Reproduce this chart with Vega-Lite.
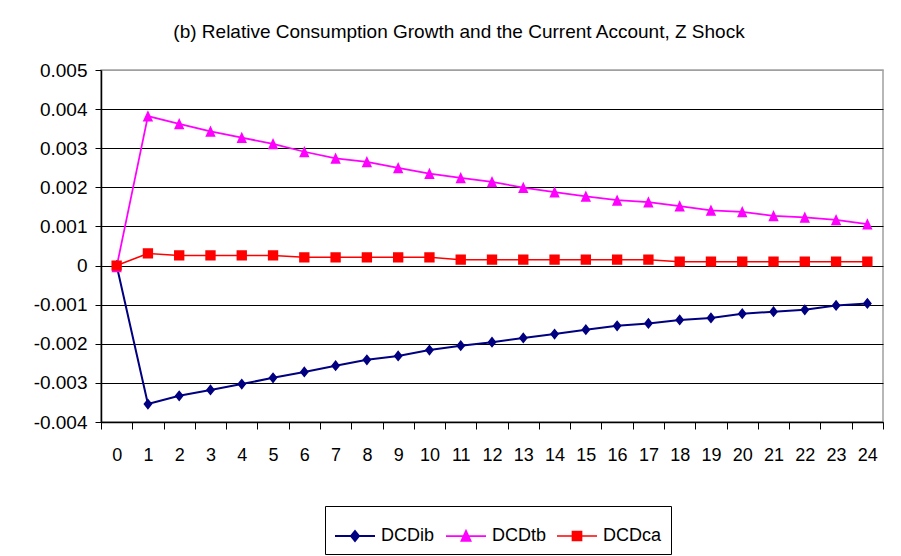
{
  "$schema": "https://vega.github.io/schema/vega-lite/v6.json",
  "autosize": "none",
  "width": 782,
  "height": 352,
  "padding": {"left": 101, "top": 70, "right": 18, "bottom": 134},
  "background": "white",
  "title": {
    "text": "(b) Relative Consumption Growth and the Current Account, Z Shock",
    "font": "Liberation Sans, Arial, sans-serif",
    "fontSize": 19,
    "fontWeight": "normal",
    "color": "black",
    "anchor": "middle",
    "baseline": "alphabetic",
    "dx": -33,
    "offset": 4
  },
  "config": {
    "view": {"stroke": "#a0a0a0", "strokeWidth": 1.5},
    "font": "Liberation Sans, Arial, sans-serif"
  },
  "data": {
    "values": [
      {"t": 0, "series": "DCDib", "value": 0},
      {"t": 1, "series": "DCDib", "value": -0.00354},
      {"t": 2, "series": "DCDib", "value": -0.00333},
      {"t": 3, "series": "DCDib", "value": -0.00318},
      {"t": 4, "series": "DCDib", "value": -0.00303},
      {"t": 5, "series": "DCDib", "value": -0.00287},
      {"t": 6, "series": "DCDib", "value": -0.00272},
      {"t": 7, "series": "DCDib", "value": -0.00256},
      {"t": 8, "series": "DCDib", "value": -0.00241},
      {"t": 9, "series": "DCDib", "value": -0.00231},
      {"t": 10, "series": "DCDib", "value": -0.00216},
      {"t": 11, "series": "DCDib", "value": -0.00205},
      {"t": 12, "series": "DCDib", "value": -0.00196},
      {"t": 13, "series": "DCDib", "value": -0.00185},
      {"t": 14, "series": "DCDib", "value": -0.00175},
      {"t": 15, "series": "DCDib", "value": -0.00164},
      {"t": 16, "series": "DCDib", "value": -0.00154},
      {"t": 17, "series": "DCDib", "value": -0.00148},
      {"t": 18, "series": "DCDib", "value": -0.00139},
      {"t": 19, "series": "DCDib", "value": -0.00134},
      {"t": 20, "series": "DCDib", "value": -0.00123},
      {"t": 21, "series": "DCDib", "value": -0.00118},
      {"t": 22, "series": "DCDib", "value": -0.00113},
      {"t": 23, "series": "DCDib", "value": -0.00102},
      {"t": 24, "series": "DCDib", "value": -0.00097},
      {"t": 0, "series": "DCDtb", "value": -0.00003},
      {"t": 1, "series": "DCDtb", "value": 0.00382},
      {"t": 2, "series": "DCDtb", "value": 0.00362},
      {"t": 3, "series": "DCDtb", "value": 0.00343},
      {"t": 4, "series": "DCDtb", "value": 0.00327},
      {"t": 5, "series": "DCDtb", "value": 0.00311},
      {"t": 6, "series": "DCDtb", "value": 0.00291},
      {"t": 7, "series": "DCDtb", "value": 0.00274},
      {"t": 8, "series": "DCDtb", "value": 0.00265},
      {"t": 9, "series": "DCDtb", "value": 0.0025},
      {"t": 10, "series": "DCDtb", "value": 0.00235},
      {"t": 11, "series": "DCDtb", "value": 0.00224},
      {"t": 12, "series": "DCDtb", "value": 0.00214},
      {"t": 13, "series": "DCDtb", "value": 0.00199},
      {"t": 14, "series": "DCDtb", "value": 0.00188},
      {"t": 15, "series": "DCDtb", "value": 0.00177},
      {"t": 16, "series": "DCDtb", "value": 0.00167},
      {"t": 17, "series": "DCDtb", "value": 0.00162},
      {"t": 18, "series": "DCDtb", "value": 0.00152},
      {"t": 19, "series": "DCDtb", "value": 0.00141},
      {"t": 20, "series": "DCDtb", "value": 0.00137},
      {"t": 21, "series": "DCDtb", "value": 0.00127},
      {"t": 22, "series": "DCDtb", "value": 0.00123},
      {"t": 23, "series": "DCDtb", "value": 0.00117},
      {"t": 24, "series": "DCDtb", "value": 0.00106},
      {"t": 0, "series": "DCDca", "value": 0},
      {"t": 1, "series": "DCDca", "value": 0.00031},
      {"t": 2, "series": "DCDca", "value": 0.00026},
      {"t": 3, "series": "DCDca", "value": 0.00026},
      {"t": 4, "series": "DCDca", "value": 0.00026},
      {"t": 5, "series": "DCDca", "value": 0.00026},
      {"t": 6, "series": "DCDca", "value": 0.00021},
      {"t": 7, "series": "DCDca", "value": 0.00021},
      {"t": 8, "series": "DCDca", "value": 0.00021},
      {"t": 9, "series": "DCDca", "value": 0.00021},
      {"t": 10, "series": "DCDca", "value": 0.00021},
      {"t": 11, "series": "DCDca", "value": 0.00015},
      {"t": 12, "series": "DCDca", "value": 0.00015},
      {"t": 13, "series": "DCDca", "value": 0.00015},
      {"t": 14, "series": "DCDca", "value": 0.00015},
      {"t": 15, "series": "DCDca", "value": 0.00015},
      {"t": 16, "series": "DCDca", "value": 0.00015},
      {"t": 17, "series": "DCDca", "value": 0.00015},
      {"t": 18, "series": "DCDca", "value": 0.0001},
      {"t": 19, "series": "DCDca", "value": 0.0001},
      {"t": 20, "series": "DCDca", "value": 0.0001},
      {"t": 21, "series": "DCDca", "value": 0.0001},
      {"t": 22, "series": "DCDca", "value": 0.0001},
      {"t": 23, "series": "DCDca", "value": 0.0001},
      {"t": 24, "series": "DCDca", "value": 0.0001}
    ]
  },
  "encoding": {
    "x": {
      "field": "t",
      "type": "ordinal",
      "bandPosition": 0.5,
      "scale": {"type": "band", "paddingInner": 0, "paddingOuter": 0},
      "axis": {
        "title": null,
        "labelAngle": 0,
        "tickBand": "extent",
        "domainColor": "black",
        "domainWidth": 1.5,
        "tickColor": "black",
        "tickSize": 7,
        "labelFontSize": 18,
        "labelColor": "black",
        "labelPadding": 17
      }
    },
    "y": {
      "field": "value",
      "type": "quantitative",
      "scale": {"domain": [-0.004, 0.005], "nice": false, "zero": false},
      "axis": {
        "title": null,
        "values": [-0.004, -0.003, -0.002, -0.001, 0, 0.001, 0.002, 0.003, 0.004, 0.005],
        "labelExpr": "datum.value == 0 ? '0' : replace(format(datum.value, '.3f'), '\u2212', '-')",
        "grid": true,
        "gridColor": {"condition": {"test": "datum.value >= 0.0049", "value": "#a0a0a0"}, "value": "black"},
        "gridWidth": 1.2,
        "domainColor": "black",
        "domainWidth": 1.5,
        "tickColor": "black",
        "tickSize": 6,
        "labelFontSize": 19,
        "labelColor": "black",
        "labelPadding": 8
      }
    }
  },
  "layer": [
    {
      "mark": {"type": "line"},
      "encoding": {
        "stroke": {
          "field": "series",
          "type": "nominal",
          "scale": {"domain": ["DCDib", "DCDtb", "DCDca"], "range": ["#000080", "#FF00FF", "#FF0000"]},
          "legend": {"title": null}
        },
        "strokeWidth": {
          "field": "series",
          "type": "nominal",
          "scale": {"domain": ["DCDib", "DCDtb", "DCDca"], "range": [2, 1.5, 2]},
          "legend": {"title": null}
        }
      }
    },
    {
      "mark": {"type": "point", "filled": true, "opacity": 1, "size": 2025},
      "encoding": {
        "color": {
          "field": "series",
          "type": "nominal",
          "scale": {"domain": ["DCDib", "DCDtb", "DCDca"], "range": ["#000080", "#FF00FF", "#FF0000"]},
          "legend": {
            "title": null,
            "orient": "none",
            "legendX": 224,
            "legendY": 436,
            "direction": "horizontal",
            "columns": 3,
            "strokeColor": "black",
            "padding": 9,
            "symbolSize": 1600,
            "columnPadding": 7,
            "labelOffset": 5,
            "labelFontSize": 18,
            "labelColor": "black"
          }
        },
        "shape": {
          "field": "series",
          "type": "nominal",
          "scale": {
            "domain": ["DCDib", "DCDtb", "DCDca"],
            "range": [
              "M-1,0H1M0,-0.25L0.2,0L0,0.25L-0.2,0Z",
              "M-1,0H1M0,-0.26L0.23,0.24L-0.23,0.24Z",
              "M-1,0H1M-0.23,-0.23H0.23V0.23H-0.23Z"
            ]
          },
          "legend": {"title": null}
        }
      }
    }
  ]
}
